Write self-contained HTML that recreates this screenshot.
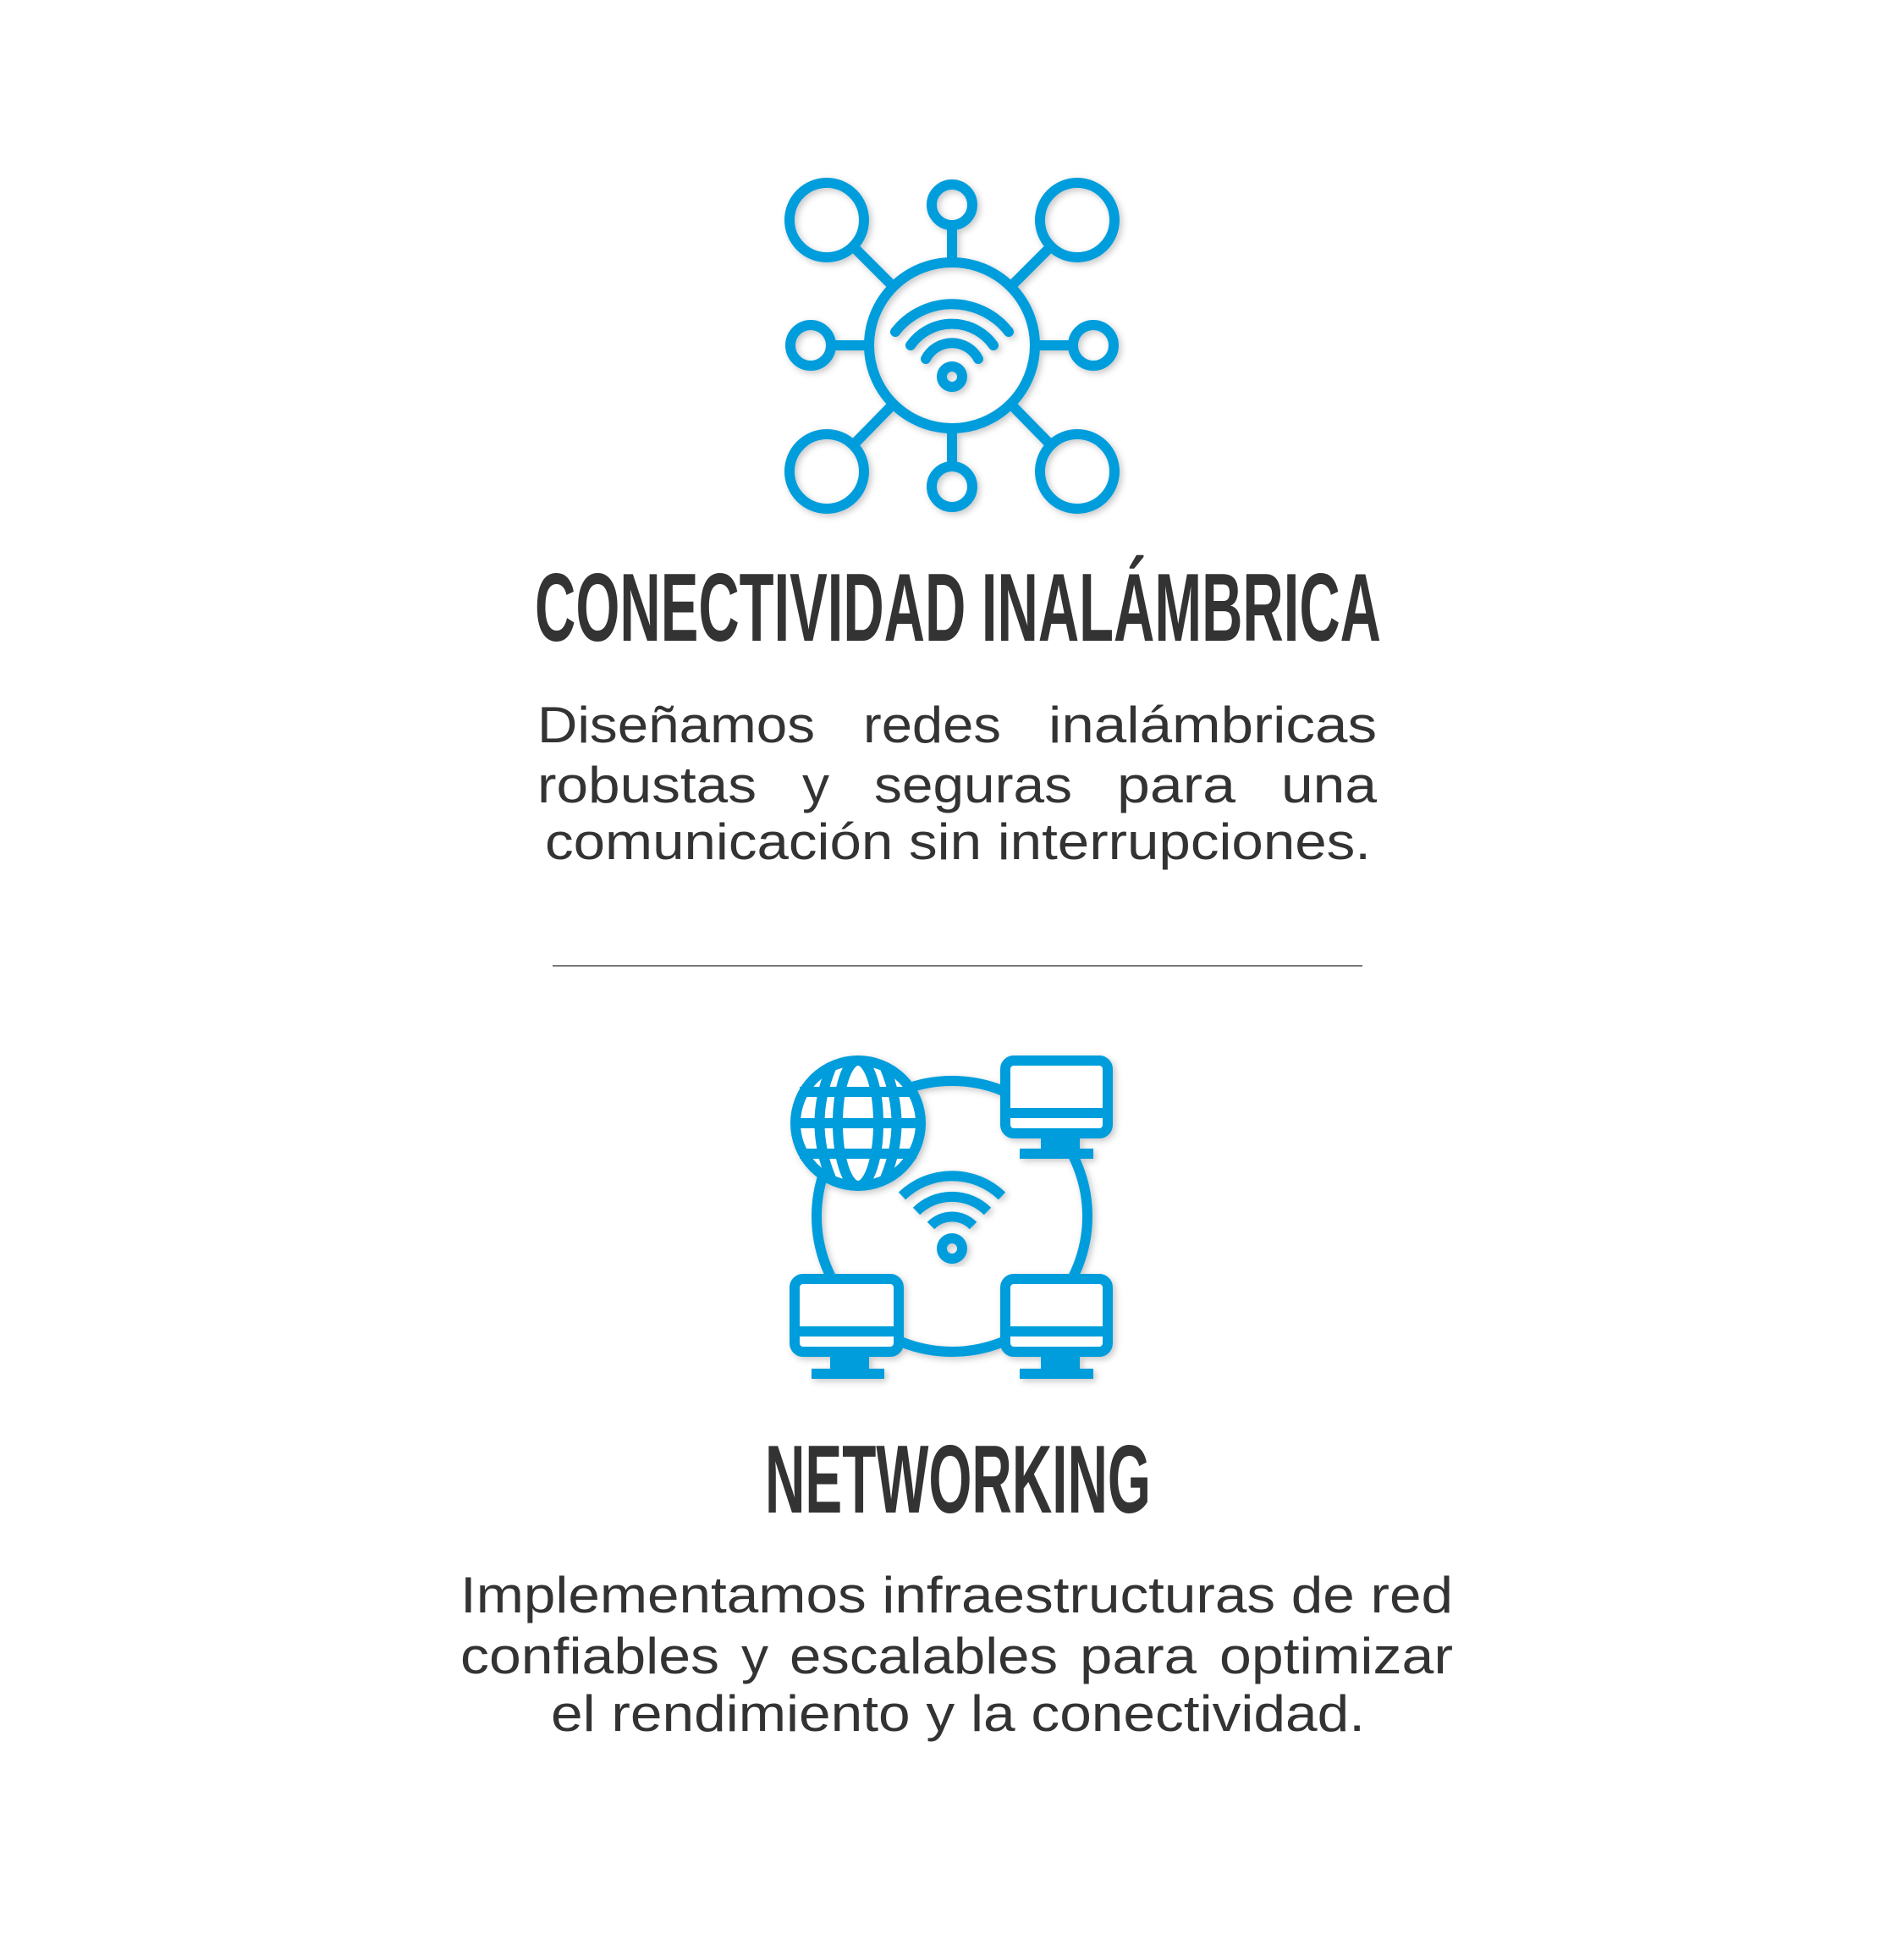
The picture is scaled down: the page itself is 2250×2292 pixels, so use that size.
<!DOCTYPE html>
<html><head><meta charset="utf-8"><style>
html,body{margin:0;padding:0;background:#fff;}
svg{display:block;}
.t{font-family:"Liberation Sans",sans-serif;font-weight:bold;fill:#333;}
.b{font-family:"Liberation Sans",sans-serif;fill:#333;font-size:60px;}
</style></head><body>
<svg width="2250" height="2292" viewBox="0 0 2250 2292" xmlns="http://www.w3.org/2000/svg">
<defs><filter id="sh" x="-10%" y="-10%" width="120%" height="120%"><feDropShadow dx="3" dy="3" stdDeviation="4" flood-color="#000" flood-opacity="0.22"/></filter></defs>
<g filter="url(#sh)" fill="none" stroke="#009ddc" stroke-width="12">
<circle cx="977" cy="260" r="44"/><circle cx="1273" cy="260" r="44"/>
<circle cx="977" cy="557" r="44"/><circle cx="1273" cy="557" r="44"/>
<circle cx="1125" cy="242" r="24"/><circle cx="1125" cy="575" r="24"/>
<circle cx="958" cy="408" r="24"/><circle cx="1292" cy="408" r="24"/>
<circle cx="1125" cy="408" r="98"/>
<line x1="1125" y1="266" x2="1125" y2="310"/><line x1="1125" y1="506" x2="1125" y2="551"/>
<line x1="982" y1="408" x2="1027" y2="408"/><line x1="1223" y1="408" x2="1268" y2="408"/>
<line x1="1008" y1="291" x2="1056" y2="339"/><line x1="1242" y1="291" x2="1194" y2="339"/>
<line x1="1008" y1="526" x2="1056" y2="477"/><line x1="1242" y1="526" x2="1194" y2="477"/>
<g stroke-linecap="round">
<path d="M1058 392 A85 85 0 0 1 1192 392"/>
<path d="M1076 408 A60 60 0 0 1 1174 408"/>
<path d="M1094 424 A35 35 0 0 1 1156 424"/>
</g>
<circle cx="1125" cy="445" r="12"/>
</g>
<g filter="url(#sh)" fill="none" stroke="#009ddc" stroke-width="12">
<circle cx="1125" cy="1437" r="160"/>
<circle cx="1014" cy="1327" r="74" fill="#fff"/>
<ellipse cx="1014" cy="1327" rx="24" ry="74"/>
<path d="M982 1262 Q955 1327 982 1392 M1046 1262 Q1073 1327 1046 1392"/>
<line x1="945" y1="1290" x2="1083" y2="1290"/><line x1="940" y1="1327" x2="1088" y2="1327"/><line x1="945" y1="1363" x2="1083" y2="1363"/>
<rect x="1188" y="1253" width="121" height="86" rx="10" fill="#fff"/>
<line x1="1188" y1="1315" x2="1309" y2="1315"/>
<rect x="1236" y="1345" width="34" height="12"/><line x1="1205" y1="1363" x2="1292" y2="1363"/>
<rect x="939" y="1511" width="123" height="86" rx="10" fill="#fff"/>
<line x1="939" y1="1573" x2="1062" y2="1573"/>
<rect x="987" y="1603" width="34" height="12"/><line x1="959" y1="1623" x2="1045" y2="1623"/>
<rect x="1188" y="1511" width="121" height="86" rx="10" fill="#fff"/>
<line x1="1188" y1="1573" x2="1309" y2="1573"/>
<rect x="1236" y="1603" width="34" height="12"/><line x1="1205" y1="1623" x2="1292" y2="1623"/>
</g>
<g filter="url(#sh)" fill="none" stroke="#009ddc" stroke-width="12">
<path d="M1066 1413 A85 85 0 0 1 1184 1413"/>
<path d="M1083 1431 A60 60 0 0 1 1167 1431"/>
<path d="M1100 1448 A35 35 0 0 1 1150 1448"/>
<circle cx="1125" cy="1475" r="12"/>
</g>
<text class="t" x="632" y="757" font-size="114" textLength="1000" lengthAdjust="spacingAndGlyphs">CONECTIVIDAD INALÁMBRICA</text>
<text class="b" x="635" y="877" textLength="328" lengthAdjust="spacingAndGlyphs">Diseñamos</text>
<text class="b" x="1020" y="877" textLength="163" lengthAdjust="spacingAndGlyphs">redes</text>
<text class="b" x="1239" y="877" textLength="388" lengthAdjust="spacingAndGlyphs">inalámbricas</text>
<text class="b" x="635" y="948" textLength="259" lengthAdjust="spacingAndGlyphs">robustas</text>
<text class="b" x="948" y="948" textLength="32" lengthAdjust="spacingAndGlyphs">y</text>
<text class="b" x="1033" y="948" textLength="234" lengthAdjust="spacingAndGlyphs">seguras</text>
<text class="b" x="1320" y="948" textLength="140" lengthAdjust="spacingAndGlyphs">para</text>
<text class="b" x="1514" y="948" textLength="113" lengthAdjust="spacingAndGlyphs">una</text>
<text class="b" x="644" y="1015" textLength="976" lengthAdjust="spacingAndGlyphs">comunicación sin interrupciones.</text>
<rect x="653" y="1140" width="957" height="2" fill="#777"/>
<text class="t" x="904" y="1787" font-size="114" textLength="456" lengthAdjust="spacingAndGlyphs">NETWORKING</text>
<text class="b" x="544" y="1905" textLength="1173" lengthAdjust="spacingAndGlyphs">Implementamos infraestructuras de red</text>
<text class="b" x="544" y="1977" textLength="306" lengthAdjust="spacingAndGlyphs">confiables</text>
<text class="b" x="876" y="1977" textLength="32" lengthAdjust="spacingAndGlyphs">y</text>
<text class="b" x="933" y="1977" textLength="317" lengthAdjust="spacingAndGlyphs">escalables</text>
<text class="b" x="1276" y="1977" textLength="138" lengthAdjust="spacingAndGlyphs">para</text>
<text class="b" x="1441" y="1977" textLength="276" lengthAdjust="spacingAndGlyphs">optimizar</text>
<text class="b" x="651" y="2045" textLength="962" lengthAdjust="spacingAndGlyphs">el rendimiento y la conectividad.</text>
</svg>
</body></html>
